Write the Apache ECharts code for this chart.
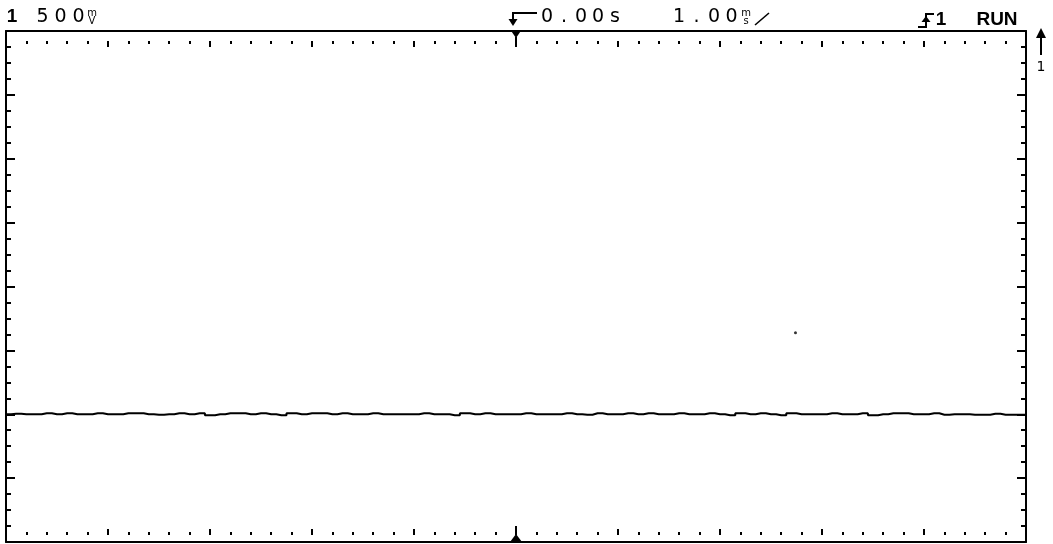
<!DOCTYPE html>
<html>
<head>
<meta charset="utf-8">
<script src="https://cdn.jsdelivr.net/npm/echarts@6/dist/echarts.min.js"></script>
<style>
html,body{margin:0;padding:0;background:#fff;}
#c{width:1053px;height:544px;}
</style>
</head>
<body>
<div id="c"></div>
<script>
// Header readouts
var chanLabel = '1';
var voltsPerDiv = '500';
var delayText = '0.00s';
var timePerDiv = '1.00';
var trigText = '1';
var runText = 'RUN';

// Axis ranges (ms horizontally, volts vertically; 500 mV/div, 1 ms/div)
var timeMin = -5, timeMax = 5, timeStep = 1;
var voltMin = -2, voltMax = 2, voltStep = 0.5;

// Trace samples, one every 0.1 ms from -5 ms to +5 ms (volts)
var traceVolts = [
 -1.000,-0.996,-1.000,-1.000,-0.992,-1.000,-0.992,-1.000,-1.000,-0.992,
 -1.000,-1.000,-0.992,-0.992,-1.000,-1.004,-1.000,-0.992,-1.000,-0.992,
 -1.008,-1.000,-0.992,-0.992,-1.000,-0.992,-1.000,-1.008,-0.992,-1.000,
 -0.992,-0.992,-1.000,-0.992,-1.000,-1.000,-0.992,-1.000,-1.000,-1.000,
 -1.000,-0.992,-1.000,-1.000,-1.008,-0.992,-1.000,-0.992,-1.000,-1.000,
 -1.000,-0.992,-1.000,-1.000,-1.000,-0.992,-1.000,-1.004,-0.992,-1.000,
 -1.000,-0.992,-1.000,-0.992,-1.000,-1.000,-0.992,-1.000,-1.000,-0.992,
 -1.000,-1.008,-0.992,-1.000,-0.992,-1.000,-1.008,-0.992,-1.000,-1.000,
 -1.000,-0.992,-1.000,-1.000,-0.992,-1.008,-1.000,-0.992,-0.992,-1.000,
 -1.000,-0.992,-1.004,-1.000,-1.000,-1.004,-1.004,-0.996,-1.004,-1.004,
 -1.004
];
var strayPoint = [2.74, -0.363];

var tracePairs = traceVolts.map(function (v, i) {
  return [Math.round((timeMin + i * 0.1) * 10) / 10, v];
});

var chart = echarts.init(document.getElementById('c'), null, {renderer: 'canvas'});
var black = '#000';
var fontMain = 'DejaVu Sans';

function cells(str, x0, adv, y, size, weight) {
  return str.split('').map(function (ch, i) {
    return {type: 'text', x: x0 + i * adv, y: y,
      style: {text: ch, fill: black, font: (weight || 'normal') + ' ' + size + 'px "' + fontMain + '"',
        textAlign: 'center', textVerticalAlign: 'bottom'}};
  });
}

var graphics = [];
graphics.push({type: 'text', x: 12, y: 26, style: {text: chanLabel, fill: black,
  font: 'bold 19px "Liberation Sans"', textAlign: 'center', textVerticalAlign: 'bottom'}});
graphics = graphics.concat(cells(voltsPerDiv, 42.5, 18, 27, 19));
graphics.push({type: 'text', x: 92, y: 18, style: {text: 'm', fill: black, font: '10px "' + fontMain + '"', textAlign: 'center', textVerticalAlign: 'bottom'}});
graphics.push({type: 'text', x: 92, y: 26, style: {text: 'V', fill: black, font: '10px "' + fontMain + '"', textAlign: 'center', textVerticalAlign: 'bottom'}});
// delay icon
graphics.push({type: 'polyline', shape: {points: [[537, 13], [513, 13], [513, 22]]}, style: {stroke: black, lineWidth: 2, fill: null}});
graphics.push({type: 'polygon', shape: {points: [[508.5, 19], [517.5, 19], [513, 26]]}, style: {fill: black}});
graphics = graphics.concat(cells(delayText, 547, 17, 27, 19));
graphics = graphics.concat(cells(timePerDiv, 679, 17.5, 27, 19));
graphics.push({type: 'text', x: 746, y: 18, style: {text: 'm', fill: black, font: '10px "' + fontMain + '"', textAlign: 'center', textVerticalAlign: 'bottom'}});
graphics.push({type: 'text', x: 746, y: 26, style: {text: 's', fill: black, font: '10px "' + fontMain + '"', textAlign: 'center', textVerticalAlign: 'bottom'}});
graphics.push({type: 'line', shape: {x1: 755, y1: 25, x2: 769, y2: 13}, style: {stroke: black, lineWidth: 1.6}});
// trigger slope icon
graphics.push({type: 'polyline', shape: {points: [[918, 27], [926, 27], [926, 14], [934, 14]]}, style: {stroke: black, lineWidth: 2, fill: null}});
graphics.push({type: 'polygon', shape: {points: [[921.5, 22], [930.5, 22], [926, 16]]}, style: {fill: black}});
graphics.push({type: 'text', x: 941, y: 29, style: {text: trigText, fill: black, font: 'bold 19px "Liberation Sans"', textAlign: 'center', textVerticalAlign: 'bottom'}});
graphics.push({type: 'text', x: 997, y: 29.5, style: {text: runText, fill: black, font: 'bold 19px "Liberation Sans"', textAlign: 'center', textVerticalAlign: 'bottom'}});
// ground reference marker (off screen above)
graphics.push({type: 'line', shape: {x1: 1041, y1: 34, x2: 1041, y2: 55}, style: {stroke: black, lineWidth: 2}});
graphics.push({type: 'polygon', shape: {points: [[1036, 38], [1046, 38], [1041, 28]]}, style: {fill: black}});
graphics.push({type: 'text', x: 1041, y: 74, style: {text: '1', fill: black, font: '14px "' + fontMain + '"', textAlign: 'center', textVerticalAlign: 'bottom'}});

function xAx(pos, offset, showLine, showTicks) {
  return {type: 'value', gridIndex: 0, position: pos, offset: offset,
    min: timeMin, max: timeMax, interval: timeStep,
    axisLine: {show: showLine, onZero: false, lineStyle: {color: black, width: 2}},
    axisTick: {show: showTicks, inside: true, length: 6, lineStyle: {color: black, width: 2}},
    minorTick: {show: showTicks, splitNumber: 5, length: 3, lineStyle: {color: black, width: 2}},
    axisLabel: {show: false}, splitLine: {show: false}};
}
function yAx(pos) {
  return {type: 'value', gridIndex: 0, position: pos,
    min: voltMin, max: voltMax, interval: voltStep,
    axisLine: {show: true, onZero: false, lineStyle: {color: black, width: 2}},
    axisTick: {show: true, inside: true, length: 9, lineStyle: {color: black, width: 2}},
    minorTick: {show: true, splitNumber: 4, length: 5, lineStyle: {color: black, width: 2}},
    axisLabel: {show: false}, splitLine: {show: false}};
}

var option = {
  animation: false,
  backgroundColor: '#fff',
  grid: [{left: 6, right: 27, top: 31, bottom: 2, containLabel: false}],
  xAxis: [
    xAx('bottom', 0, true, false),
    xAx('top', 0, true, false),
    xAx('top', -10, false, true),
    xAx('bottom', -7, false, true)
  ],
  yAxis: [yAx('left'), yAx('right')],
  graphic: graphics,
  series: [
    {type: 'line', xAxisIndex: 0, yAxisIndex: 0, data: tracePairs, showSymbol: false,
      step: 'middle', lineStyle: {color: black, width: 2}, z: 5,
      markPoint: {silent: true, label: {show: false}, itemStyle: {color: black}, z: 10,
        data: [
          {coord: [0, voltMax], symbol: 'path://M0,0 L11,0 L5.5,8 Z M4.5,7 L6.5,7 L6.5,17 L4.5,17 Z',
            symbolSize: [11, 17], symbolOffset: [0, 7.5], symbolKeepAspect: false},
          {coord: [0, voltMin], symbol: 'path://M5,0 L7,0 L7,9 L5,9 Z M6,8 L12,16 L0,16 Z',
            symbolSize: [12, 16], symbolOffset: [0, -8], symbolKeepAspect: false}
        ]}},
    {type: 'scatter', xAxisIndex: 0, yAxisIndex: 0, data: [strayPoint], symbolSize: 3,
      itemStyle: {color: black}}
  ]
};
chart.setOption(option);
</script>
</body>
</html>
